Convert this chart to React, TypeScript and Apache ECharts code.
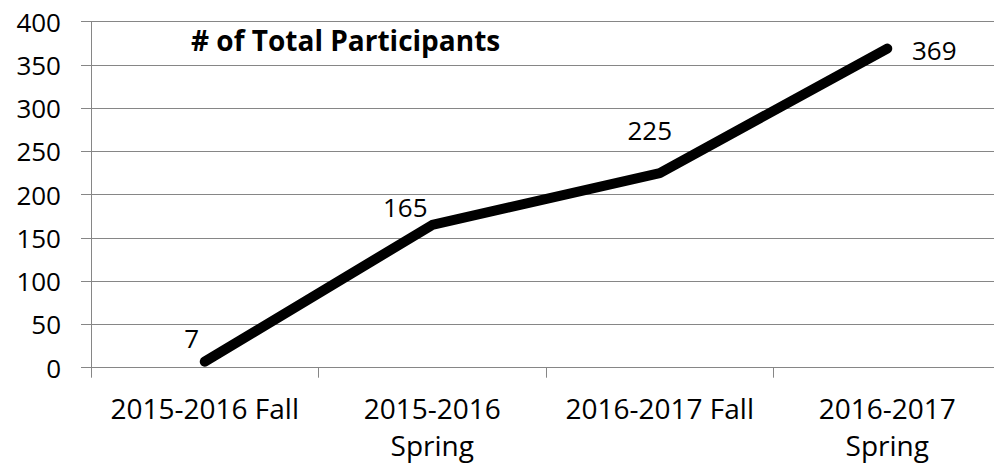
import React, { useEffect, useRef } from "react";
import * as echarts from "echarts";

const categories = ["2015-2016 Fall", "2015-2016\nSpring", "2016-2017 Fall", "2016-2017\nSpring"];
const participants = [7, 165, 225, 369];
const yTicks = { min: 0, max: 400, interval: 50 };
const title = "# of Total Participants";
// label displacement from each point (style only)
const labelOffsets: [number, number][] = [
  [-13, -24],
  [-27, -18],
  [-10, -43],
  [47, 1],
];

const FONT = "Open Sans";

export default function App() {
  const ref = useRef<HTMLDivElement>(null);
  useEffect(() => {
    if (!ref.current) return;
    const chart = echarts.init(ref.current, undefined, { renderer: "svg" });
    chart.setOption({
      animation: false,
      backgroundColor: "#ffffff",
      graphic: [
        {
          type: "text",
          left: 191,
          top: 26,
          style: {
            text: title,
            fontFamily: FONT,
            fontSize: 28,
            fontWeight: "bold",
            fill: "#000",
          },
        },
      ],
      grid: { left: 91, top: 21.7, right: 0, bottom: 96.3, containLabel: false },
      xAxis: {
        type: "category",
        data: categories,
        boundaryGap: true,
        axisLine: { show: true, lineStyle: { color: "#868686", width: 1 } },
        axisTick: { show: true, length: 10, inside: false, lineStyle: { color: "#868686" } },
        axisLabel: {
          fontFamily: FONT,
          fontSize: 28,
          color: "#000",
          margin: 22,
          lineHeight: 37,
          interval: 0,
        },
        splitLine: { show: false },
      },
      yAxis: {
        type: "value",
        min: yTicks.min,
        max: yTicks.max,
        interval: yTicks.interval,
        axisLine: { show: true, lineStyle: { color: "#868686", width: 1 } },
        axisTick: { show: true, length: 10, lineStyle: { color: "#868686" } },
        axisLabel: { fontFamily: FONT, fontSize: 26, color: "#000", margin: 30 },
        splitLine: { show: true, lineStyle: { color: "#868686", width: 1 } },
      },
      series: [
        {
          type: "line",
          data: participants.map((v, i) => ({
            value: v,
            label: { offset: labelOffsets[i] },
          })),
          symbol: "circle",
          symbolSize: 1,
          showSymbol: true,
          itemStyle: { color: "#000" },
          lineStyle: { color: "#000", width: 10, cap: "round", join: "round" },
          label: {
            show: true,
            position: "inside",
            fontFamily: FONT,
            fontSize: 26,
            color: "#000",
          },
        },
      ],
    });
    return () => chart.dispose();
  }, []);
  return (
    <div
      ref={ref}
      style={{ position: "fixed", left: 0, top: 0, width: 1001, height: 464, background: "#fff" }}
    />
  );
}
